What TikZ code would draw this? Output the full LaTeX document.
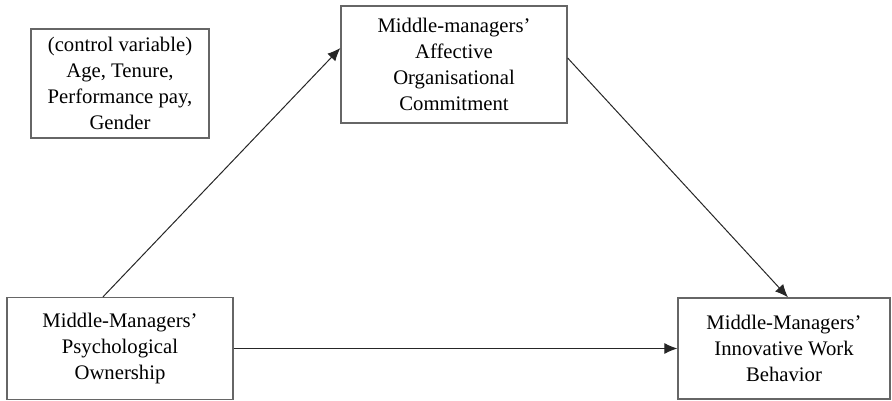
\documentclass[tikz,border=0pt]{standalone}
\usepackage{fontspec}
\setmainfont{Liberation Serif}
\usetikzlibrary{arrows.meta}
\begin{document}
\begin{tikzpicture}[x=1pt,y=-1pt]
		\tikzset{block/.style = {draw=black!60, line width=1.3pt, align=center, inner sep=0pt,
				font=\fontsize{20.7}{26}\selectfont}}
		\tikzset{link/.style = {-{Latex[length=13pt,width=11pt]}, line width=1pt, black!85}}
		
		\useasboundingbox (0,0) rectangle (892,401);
		
		\node[block, minimum width=178pt, minimum height=109pt] (ctrl) at ( 120,  83.5) {(control variable)\\Age, Tenure,\\Performance pay,\\Gender};
		\node[block, minimum width=226pt, minimum height=117pt] (aoc)  at ( 454,  64.5) {Middle-managers'\\Affective\\Organisational\\Commitment};
		\node[block, minimum width=226pt, minimum height=102pt] (po)   at ( 120, 348.5) {Middle-Managers'\\Psychological\\Ownership};
		\node[block, minimum width=212pt, minimum height=101pt] (iwb)  at ( 784, 348.5) {Middle-Managers'\\Innovative Work\\Behavior};
		
		\draw[link] ([xshift=-17pt]po.north) to ([yshift=16.5pt]aoc.west);
		\draw[link] ([yshift=6.5pt]aoc.east) to ([xshift=4pt]iwb.north);
		\draw[link] (po) to (iwb);
		\end{tikzpicture}
\end{document}
